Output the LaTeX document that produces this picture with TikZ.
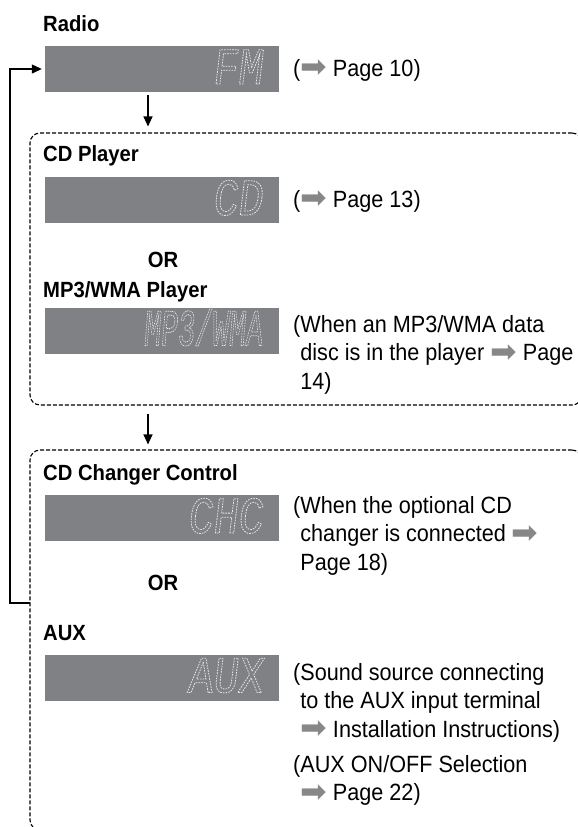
\documentclass[tikz,border=0pt]{standalone}
\usepackage{fontspec}
\usepackage{graphicx}
\setmainfont{Liberation Sans}[FakeStretch=0.92]
\newfontfamily\lcdfont{Liberation Mono}[FakeStretch=0.8,FakeSlant=0.12]
\newfontfamily\arrowfont{DejaVu Sans}
\usetikzlibrary{arrows.meta}
\definecolor{lcdgray}{RGB}{128,129,133}
\definecolor{lcdtext}{RGB}{232,232,232}
\definecolor{pointer}{RGB}{135,135,135}
\newcommand{\seearrow}{\raisebox{-1.5pt}{\scalebox{1.35}{\arrowfont\textcolor{pointer}{➡}}}}
\newcommand{\lcdon}{\special{pdf:literal direct 1 Tr 0.8 w [1.6 1.1] 0 d}}
\newcommand{\lcdoff}{\special{pdf:literal direct 0 Tr}}

\begin{document}
\begin{tikzpicture}[x=1pt,y=-1pt,
    heading/.style={anchor=base west, inner sep=0pt, font=\fontsize{22}{26}\selectfont\bfseries},
    note/.style={anchor=north west, inner sep=0pt, align=left, font=\fontsize{23.5}{28.5}\selectfont},
    lcd/.style={fill=lcdgray, text=lcdtext, minimum width=234pt, minimum height=46pt,
      text width=200pt, align=right, inner xsep=17pt, inner ysep=8pt,
      text height=30pt, text depth=0pt, font=\lcdfont\fontsize{52}{52}\selectfont},
    group/.style={draw, line width=1.1pt, dash pattern=on 4pt off 2pt, rounded corners=10pt},
    flow/.style={line width=1.2pt, -{Triangle[length=10pt,width=9pt]}}]

  \useasboundingbox (0,0) rectangle (578,827);
  \clip (0,0) rectangle (578,827);

  % Radio
  \node[heading] (radio) at (43,31) {Radio};
  \node[lcd] (fm) at (162,69) {\lcdon FM\lcdoff};
  \node[note] (fmnote) at (293,59) {(\seearrow{} Page 10)};

  % CD / MP3 group
  \node[group, minimum width=552pt, minimum height=272pt] (grpA) at (306,269) {};
  \node[heading] (cdhead) at (43,161) {CD Player};
  \node[lcd] (cd) at (162,200) {\lcdon CD\lcdoff};
  \node[note] (cdnote) at (293,190) {(\seearrow{} Page 13)};
  \node[heading, anchor=base] (or1) at (163,267) {OR};
  \node[heading] (mp3head) at (43,297) {MP3/WMA Player};
  \node[lcd] (mp3) at (162,330.5) {\lcdon\scalebox{0.68}[1]{MP3/WMA}\lcdoff};
  \node[note] (mp3note) at (293,315) {(When an MP3/WMA data\\\hphantom{(}disc is in the player \seearrow{} Page\\\hphantom{(}14)};

  % CHC / AUX group
  \node[group, minimum width=552pt, minimum height=380pt] (grpB) at (306,640) {};
  \node[heading] (chchead) at (43,480) {CD Changer Control};
  \node[lcd] (chc) at (162,518) {\lcdon CHC\lcdoff};
  \node[note] (chcnote) at (293,496) {(When the optional CD\\\hphantom{(}changer is connected \seearrow\\\hphantom{(}Page 18)};
  \node[heading, anchor=base] (or2) at (163,590) {OR};
  \node[heading] (auxhead) at (43,640) {AUX};
  \node[lcd] (aux) at (162,677.5) {\lcdon AUX\lcdoff};
  \node[note] (auxnote) at (293,663) {(Sound source connecting\\\hphantom{(}to the AUX input terminal\\\hphantom{(}\seearrow{} Installation Instructions)};
  \node[note] (selnote) at (293,755) {(AUX ON/OFF Selection\\\hphantom{(}\seearrow{} Page 22)};

  % Arrows
  \coordinate (axis) at (148,0);
  \coordinate (back) at (30,603);
  \draw[flow, shorten <=3pt, shorten >=6pt] (fm.south -| axis) -- (grpA.north -| axis);
  \draw[flow, shorten <=8pt, shorten >=5pt] (grpA.south -| axis) -- (grpB.north -| axis);
  \draw[flow, shorten >=3pt] (back) -- ++(-20,0) |- (fm.west);

\end{tikzpicture}
\end{document}
